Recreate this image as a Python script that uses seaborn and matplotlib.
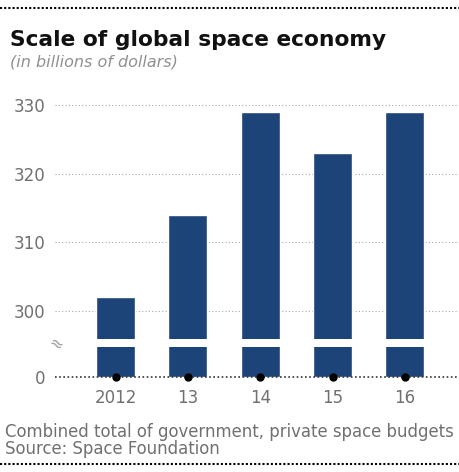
import numpy as np
import pandas as pd
import matplotlib
matplotlib.use("Agg")
import matplotlib.pyplot as plt
import seaborn as sns

# ---- data ----
years = ["2012", "13", "14", "15", "16"]
values = [302, 314, 329, 323, 329]
ytick_vals = [300, 310, 320, 330]
ytick_labels = ["300", "310", "320", "330"]

title = "Scale of global space economy"
subtitle = "(in billions of dollars)"
note1 = "Combined total of government, private space budgets"
note2 = "Source: Space Foundation"

df = pd.DataFrame({"year": years, "value": values})

sns.set_theme(style="white")
plt.rcParams["font.family"] = ["DejaVu Sans"]

W, H = 459, 472
fig = plt.figure(figsize=(W / 100, H / 100), dpi=100)

bar_color = "#1c4478"
txt_gray = "#707070"

def fx(px):
    return px / W

def fy(py):
    return 1 - py / H

left, right = 55, 459
ax_up = fig.add_axes([fx(left), fy(339.3), fx(right - left), fy(100) - fy(339.3)])
ax_lo = fig.add_axes([fx(left), fy(376.7), fx(right - left), fy(347.3) - fy(376.7)])

for ax in (ax_up, ax_lo):
    sns.barplot(data=df, x="year", y="value", color=bar_color, saturation=1,
                width=0.54, ax=ax, zorder=3)
    ax.set_xlim(-0.84, 4.75)
    ax.set_xlabel("")
    ax.set_ylabel("")
    for s in ax.spines.values():
        s.set_visible(False)
    ax.tick_params(length=0)

# upper axis
ax_up.set_ylim(295.83, 330.73)
ax_up.set_yticks(ytick_vals)
ax_up.set_yticklabels(ytick_labels)
ax_up.set_xticks([])
ax_up.tick_params(axis="y", pad=7, labelsize=12, labelcolor=txt_gray)
ax_up.grid(axis="y", color="#aaaaaa", linestyle=(0, (1, 2)), linewidth=0.8, zorder=0)
ax_up.set_axisbelow(True)

# lower axis
ax_lo.set_ylim(0, 4.375)
ax_lo.set_yticks([0])
ax_lo.set_yticklabels(["0"])
ax_lo.tick_params(axis="y", pad=7, labelsize=12, labelcolor=txt_gray)
ax_lo.set_xticks(range(len(years)))
ax_lo.set_xticklabels(years)
ax_lo.tick_params(axis="x", pad=9, labelsize=12, labelcolor=txt_gray)
ax_lo.axhline(0, color="#333333", linestyle=(0, (1, 1.5)), linewidth=1.2, zorder=4, clip_on=False)
ax_lo.plot(np.arange(len(years)), np.zeros(len(years)), "o", color="black",
           markersize=5, zorder=5, clip_on=False)

# break mark
fig.text(fx(56), fy(344), "≈", fontsize=12, color="#999999", ha="center", va="center",
         rotation=-30)

# titles and notes
fig.text(fx(10), fy(40), title, fontsize=15.7, fontweight="bold", color="#111111",
         ha="left", va="center")
fig.text(fx(10), fy(62), subtitle, fontsize=11.5, style="italic", color="#909090",
         ha="left", va="center")
fig.text(fx(5), fy(432), note1, fontsize=11.9, color=txt_gray, ha="left", va="center")
fig.text(fx(5), fy(449), note2, fontsize=11.9, color=txt_gray, ha="left", va="center")

# rules
fig.add_artist(plt.Line2D([0, 1], [fy(8), fy(8)], color="black", linestyle=(0, (1, 1)),
                          linewidth=1.5))
fig.add_artist(plt.Line2D([0, 1], [fy(464), fy(464)], color="black", linestyle=(0, (1, 1)),
                          linewidth=1.5))

fig.savefig("out.png", dpi=100)
